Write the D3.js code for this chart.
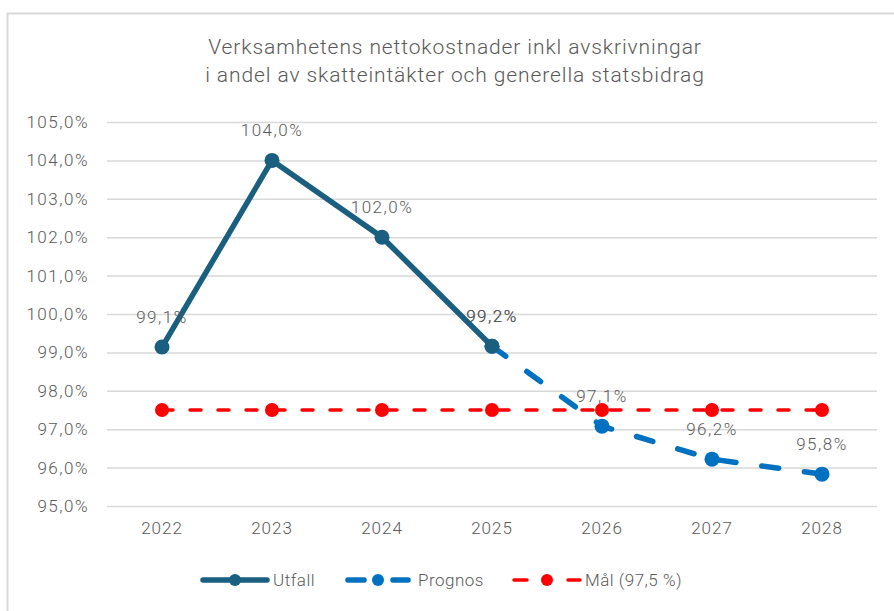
<!DOCTYPE html>
<html>
<head>
<meta charset="utf-8">
<script src="https://cdn.jsdelivr.net/npm/d3@7"></script>
<style>
  body { margin: 0; background: #fff; }
  svg { display: block; font-family: "Roboto", "Noto Sans", sans-serif; }
</style>
</head>
<body>
<script>
// data
var years = ["2022", "2023", "2024", "2025", "2026", "2027", "2028"];
var utfall = [99.14, 104.0, 102.0, 99.16, null, null, null];
var prognos = [null, null, null, 99.16, 97.08, 96.22, 95.83];
var mal = [97.5, 97.5, 97.5, 97.5, 97.5, 97.5, 97.5];
var yTicks = [95, 96, 97, 98, 99, 100, 101, 102, 103, 104, 105];
var titleLines = ["Verksamhetens nettokostnader inkl avskrivningar",
                  "i andel av skatteintäkter och generella statsbidrag"];

var width = 894, height = 611;
var textColor = "#595959";

var svg = d3.select("body").append("svg")
  .attr("width", width)
  .attr("height", height);

// chart border
svg.append("rect")
  .attr("x", 7.5).attr("y", 13.5)
  .attr("width", 920).attr("height", 640)
  .attr("fill", "none")
  .attr("stroke", "#d9d9d9")
  .attr("stroke-width", 2);

svg.selectAll(".title")
  .data(titleLines)
  .enter().append("text")
  .attr("class", "title")
  .attr("x", 455)
  .attr("y", function(d, i) { return 54 + i * 28; })
  .attr("text-anchor", "middle")
  .attr("font-size", 21)
  .attr("font-weight", 300)
  .attr("letter-spacing", 0.9)
  .attr("fill", textColor)
  .text(function(d) { return d; });

var x = d3.scaleBand().domain(years).range([107, 877]);
var y = d3.scaleLinear().domain([95, 105]).range([506, 122]);

// gridlines
svg.append("g")
  .attr("transform", "translate(107,0)")
  .call(d3.axisLeft(y).tickValues(yTicks).tickSize(-770).tickFormat(""))
  .call(function(g) {
    g.select(".domain").remove();
    g.selectAll("line").attr("stroke", "#d9d9d9").attr("stroke-width", 1.5);
  });

// y labels
var fmt = function(v) { return d3.format(".1f")(v).replace(".", ",") + "%"; };
svg.append("g")
  .attr("transform", "translate(89,0)")
  .call(d3.axisLeft(y).tickValues(yTicks).tickSize(0).tickPadding(0).tickFormat(fmt))
  .call(function(g) {
    g.select(".domain").remove();
    g.selectAll("text").attr("font-size", 17).attr("fill", textColor)
      .attr("font-family", "Roboto, sans-serif").attr("font-weight", 300)
      .attr("letter-spacing", 1.5);
  });

// x labels
svg.append("g")
  .attr("transform", "translate(0,522)")
  .call(d3.axisBottom(x).tickSize(0).tickPadding(0))
  .call(function(g) {
    g.select(".domain").remove();
    g.selectAll("text").attr("font-size", 17).attr("fill", textColor)
      .attr("font-family", "Roboto, sans-serif").attr("font-weight", 300)
      .attr("letter-spacing", 1);
  });

var cx = function(d, i) { return x(years[i]) + x.bandwidth() / 2; };

function drawSeries(values, color, lw, dash, r, labels) {
  var line = d3.line()
    .defined(function(d) { return d !== null; })
    .x(function(d, i) { return cx(d, i); })
    .y(function(d) { return y(d); });
  svg.append("path")
    .datum(values)
    .attr("d", line)
    .attr("fill", "none")
    .attr("stroke", color)
    .attr("stroke-width", lw)
    .attr("stroke-dasharray", dash)
    .attr("stroke-linecap", "round");
  var pts = values.map(function(v, i) { return {v: v, i: i}; })
    .filter(function(d) { return d.v !== null; });
  svg.selectAll(null)
    .data(pts)
    .enter().append("circle")
    .attr("cx", function(d) { return cx(d.v, d.i); })
    .attr("cy", function(d) { return y(d.v); })
    .attr("r", r)
    .attr("fill", color);
  if (labels) {
    svg.selectAll(null)
      .data(pts)
      .enter().append("text")
      .attr("x", function(d) { return cx(d.v, d.i); })
      .attr("y", function(d) { return y(d.v) - 24; })
      .attr("text-anchor", "middle")
      .attr("font-size", 17)
      .attr("font-weight", 300)
      .attr("letter-spacing", 1.5)
      .attr("fill", textColor)
      .text(function(d) { return fmt(d.v); });
  }
}

drawSeries(mal, "#ff0000", 3.5, "11,17", 7, false);
drawSeries(prognos, "#0070c0", 5.5, "17,26", 7.5, true);
drawSeries(utfall, "#1a5e80", 5.5, null, 7.5, true);

// legend
var legend = [
  {name: "Utfall", color: "#1a5e80", x: 203, len: 64, dash: null, lw: 5.5, tx: 70},
  {name: "Prognos", color: "#0070c0", x: 348, len: 60, dash: "16,29", lw: 5.5, tx: 70},
  {name: "Mål (97,5 %)", color: "#ff0000", x: 514, len: 66, dash: "13,41", lw: 3.5, tx: 71}
];
var lg = svg.selectAll(".legend")
  .data(legend)
  .enter().append("g")
  .attr("transform", function(d) { return "translate(" + d.x + ",580)"; });
lg.append("line")
  .attr("x1", 0).attr("x2", function(d) { return d.len; })
  .attr("stroke", function(d) { return d.color; })
  .attr("stroke-width", function(d) { return d.lw; })
  .attr("stroke-dasharray", function(d) { return d.dash; })
  .attr("stroke-linecap", "round");
lg.append("circle")
  .attr("cx", function(d) { return d.len / 2; }).attr("r", 6)
  .attr("fill", function(d) { return d.color; });
lg.append("text")
  .attr("x", function(d) { return d.tx; })
  .attr("y", 6)
  .attr("font-size", 17)
  .attr("font-weight", 300)
  .attr("letter-spacing", 0.5)
  .attr("fill", textColor)
  .text(function(d) { return d.name; });
</script>
</body>
</html>
